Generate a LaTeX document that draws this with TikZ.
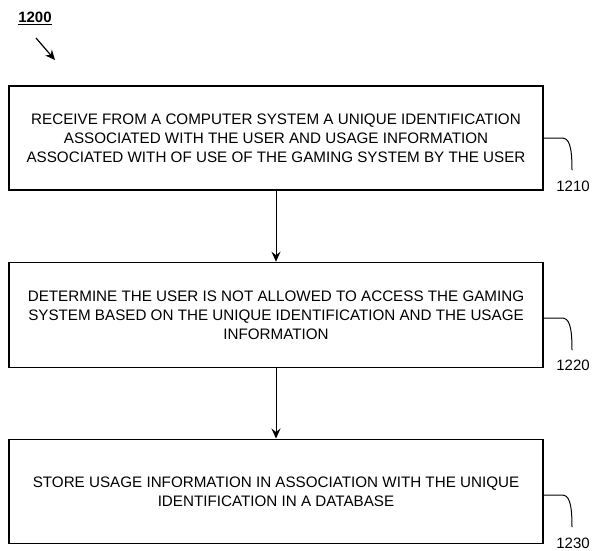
\documentclass[tikz,border=0pt]{standalone}
\usepackage{fontspec}
\setmainfont{Liberation Sans}
\usetikzlibrary{arrows.meta}
\begin{document}
\begin{tikzpicture}[x=1pt,y=-1pt,
  stepbox/.style={draw,line width=1.6pt,minimum width=534pt,inner sep=0pt,align=center,
    font=\fontsize{15.2}{19}\selectfont},
  flow/.style={line width=1pt,-{Stealth[length=10pt,width=9pt,inset=3.5pt]}},
  leader/.style={line width=1pt},
  reflabel/.style={font=\fontsize{15}{18}\selectfont,inner sep=0pt}]
\useasboundingbox (0,0) rectangle (602,550);
\node[stepbox,minimum height=104pt] (b1) at (276,138)
  {RECEIVE FROM A COMPUTER SYSTEM A UNIQUE IDENTIFICATION\\ASSOCIATED WITH THE USER AND USAGE INFORMATION\\ASSOCIATED WITH OF USE OF THE GAMING SYSTEM BY THE USER};
\node[stepbox,minimum height=105pt] (b2) at (276,315)
  {DETERMINE THE USER IS NOT ALLOWED TO ACCESS THE GAMING\\SYSTEM BASED ON THE UNIQUE IDENTIFICATION AND THE USAGE\\INFORMATION};
\node[stepbox,minimum height=104pt] (b3) at (276,491.3)
  {STORE USAGE INFORMATION IN ASSOCIATION WITH THE UNIQUE\\IDENTIFICATION IN A DATABASE};
\draw[flow] (b1.south) -- (b2.north);
\draw[flow] (b2.south) -- (b3.north);
\node[reflabel] (l1) at (573,186) {1210};
\node[reflabel] (l2) at (573,365) {1220};
\node[reflabel] (l3) at (573,543) {1230};
\coordinate (c1) at (b1.east |- 0,138);
\coordinate (c2) at (b2.east |- 0,318);
\coordinate (c3) at (b3.east |- 0,495);
\draw[leader] (c1) -- ++(18,0) .. controls +(7,0) and (572,145) .. (572,170);
\draw[leader] (c2) -- ++(18,0) .. controls +(7,0) and (572,325) .. (572,350);
\draw[leader] (c3) -- ++(18,0) .. controls +(7,0) and (572,502) .. (572,527);
\node[font=\bfseries\fontsize{15}{18}\selectfont,inner sep=0pt] (fig) at (35,18) {\underline{1200}};
\coordinate (a0) at (36,38);
\coordinate (a1) at (55,60);
\draw[line width=1.2pt,-{Stealth[length=10pt,width=9pt,inset=3.5pt]}] (a0) -- (a1);
\end{tikzpicture}
\end{document}
